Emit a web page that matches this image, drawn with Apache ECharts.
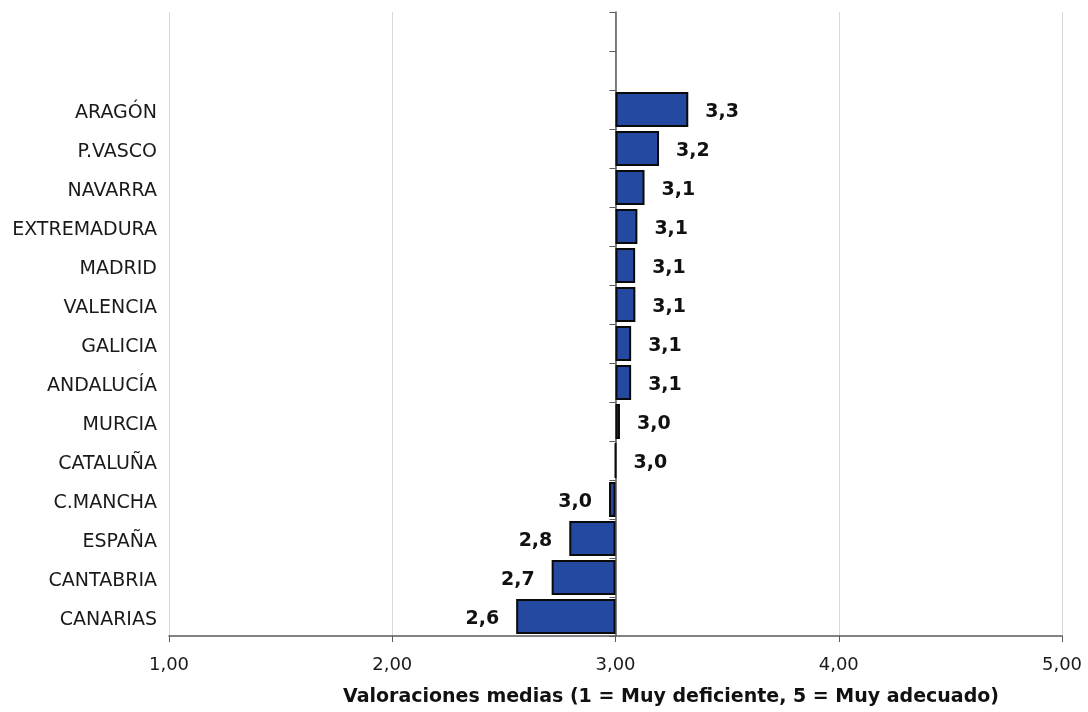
<!DOCTYPE html>
<html><head><meta charset="utf-8">
<script src="https://cdn.jsdelivr.net/npm/echarts@6/dist/echarts.min.js"></script>
<style>html,body{margin:0;padding:0;background:#fff}#c{width:1088px;height:712px}</style>
</head><body><div id="c"></div>
<script>
// Top-to-bottom order as in the reference
const regions = ['ARAGÓN','P.VASCO','NAVARRA','EXTREMADURA','MADRID','VALENCIA','GALICIA','ANDALUCÍA','MURCIA','CATALUÑA','C.MANCHA','ESPAÑA','CANTABRIA','CANARIAS'];
const values = [3.326, 3.195, 3.13, 3.098, 3.088, 3.089, 3.07, 3.07, 3.02, 3.0, 2.971, 2.793, 2.714, 2.555];
const baseline = 3;
const xTicks = [1, 2, 3, 4, 5];
const axisTitle = 'Valoraciones medias (1 = Muy deficiente, 5 = Muy adecuado)';
const blankSlots = ['', ''];

const cats = blankSlots.concat(regions);
const vals = blankSlots.map(() => null).concat(values);
const fmtComma = (v, d) => v.toFixed(d).replace('.', ',');

const chart = echarts.init(document.getElementById('c'));
chart.setOption({
  animation: false,
  backgroundColor: '#fff',
  textStyle: { fontFamily: 'DejaVu Sans' },
  title: {
    text: axisTitle,
    left: 666, top: 683, textAlign: 'center',
    textStyle: { fontSize: 19, fontWeight: 'bold', color: '#111', fontFamily: 'DejaVu Sans' }
  },
  grid: { left: 169, right: 26, top: 12, bottom: 76, containLabel: false },
  xAxis: {
    type: 'value', min: xTicks[0] - baseline, max: xTicks[xTicks.length - 1] - baseline, interval: 1,
    axisLine: { show: true, onZero: false, lineStyle: { color: '#595959', width: 1.5 } },
    axisTick: { show: true, length: 6, lineStyle: { color: '#595959' } },
    axisLabel: { formatter: v => fmtComma(v + baseline, 2), fontSize: 18, color: '#1a1a1a', margin: 20 },
    splitLine: { show: true, lineStyle: { color: '#d9d9d9', width: 1 } }
  },
  yAxis: [
    {
      type: 'category', data: cats, inverse: true,
      axisLine: { show: false, onZero: false },
      axisTick: { show: false },
      axisLabel: {
        margin: 12,
        formatter: v => v ? '{c|' + v + '}' : '',
        rich: { c: { fontSize: 19, color: '#1a1a1a', fontFamily: 'DejaVu Sans', padding: [7, 0, 0, 0] } }
      }
    },
    {
      type: 'category', data: cats, inverse: true, position: 'left',
      axisLine: { show: true, onZero: true, lineStyle: { color: '#595959', width: 1.5 } },
      axisTick: { show: true, length: 6, lineStyle: { color: '#595959' } },
      axisLabel: { show: false }
    }
  ],
  series: [{
    type: 'bar', yAxisIndex: 0, barWidth: 35,
    data: vals.map(v => v === null ? null : {
      value: v - baseline,
      label: { position: v < baseline ? 'left' : 'right' }
    }),
    itemStyle: { color: '#2349A0', borderColor: '#0a0a0a', borderWidth: 2 },
    label: {
      show: true, distance: 17, fontSize: 19, fontWeight: 'bold', color: '#111',
      offset: [0, 3],
      formatter: p => fmtComma(values[p.dataIndex - blankSlots.length], 1)
    }
  }]
});
</script></body></html>
